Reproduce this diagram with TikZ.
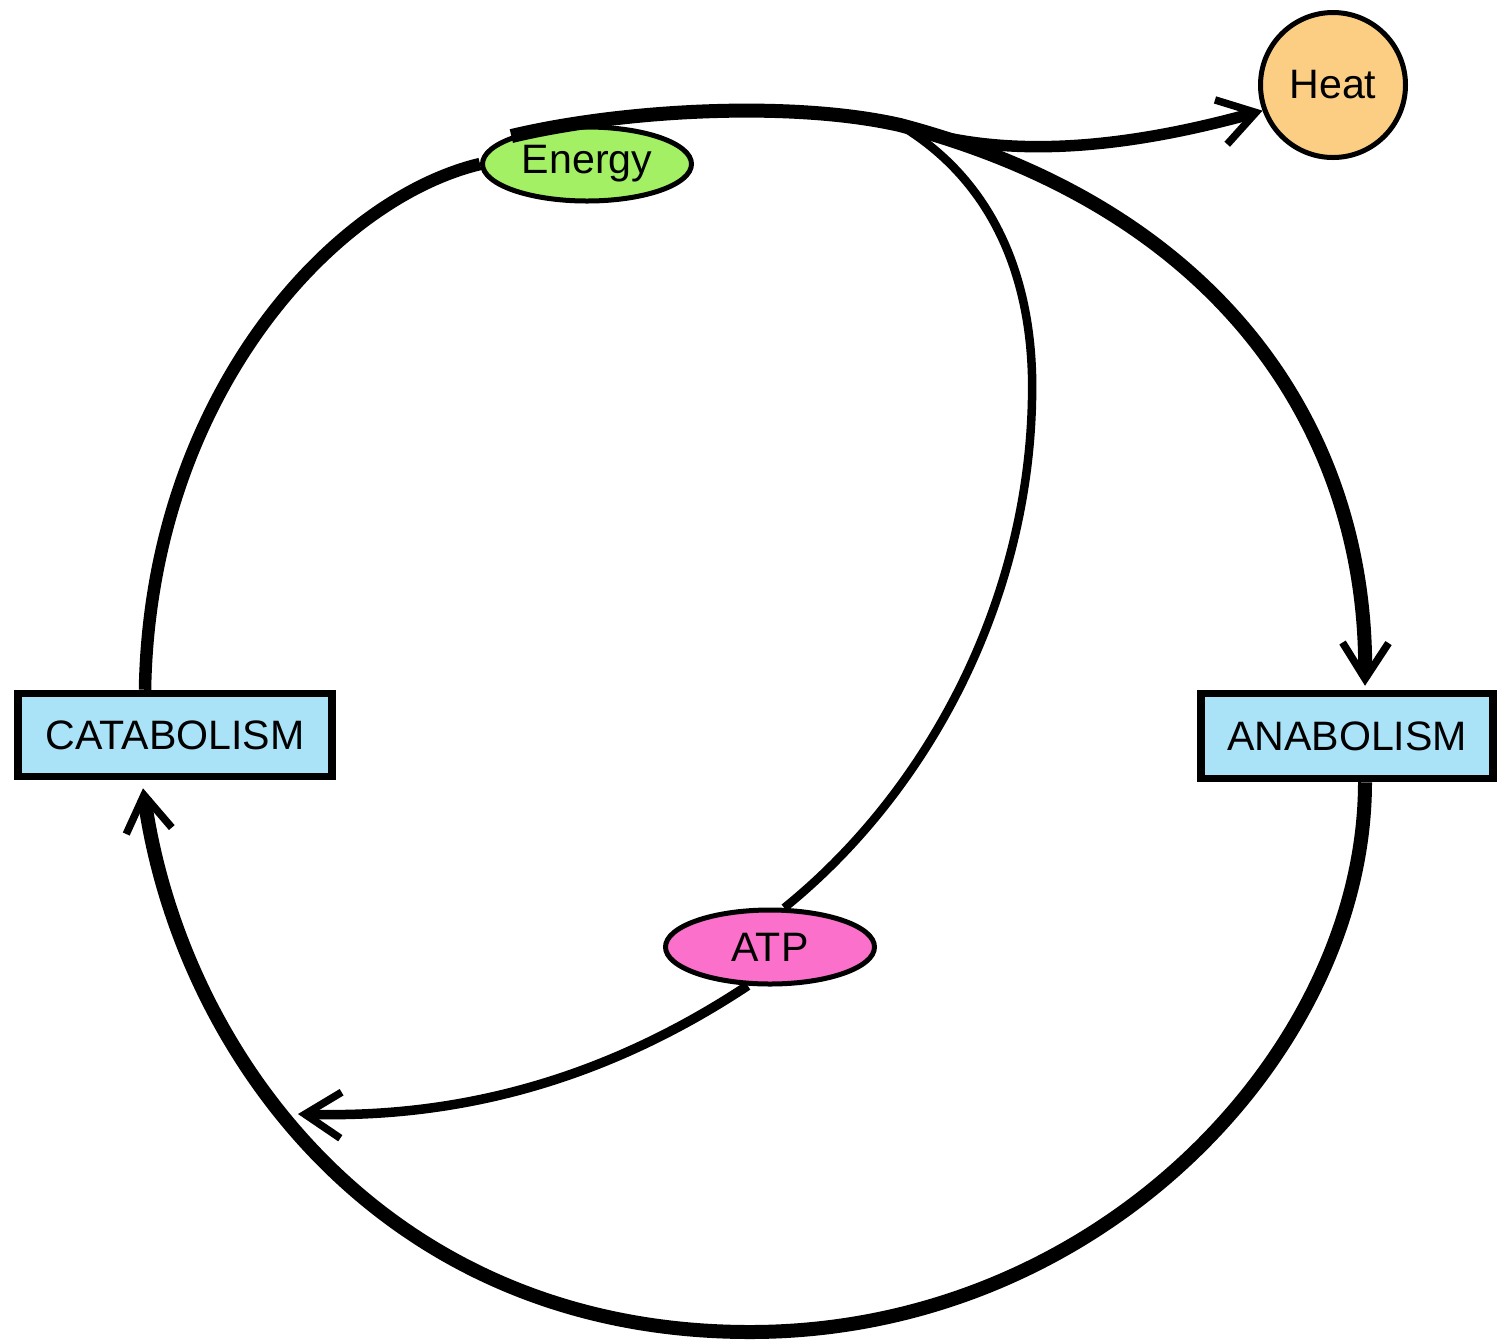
\documentclass[tikz,border=0pt]{standalone}
\usepackage{fontspec}
\setmainfont{Liberation Sans}
\usepackage{tikz}
\usetikzlibrary{shapes,arrows.meta}
\usetikzlibrary{calc}
\definecolor{energygreen}{RGB}{164,240,100}
\definecolor{heatorange}{RGB}{252,206,132}
\definecolor{atppink}{RGB}{250,112,202}
\definecolor{boxblue}{RGB}{170,226,248}

\begin{document}
\begin{tikzpicture}[x=0.1mm,y=-0.1mm,
  box/.style={draw, line width=0.75mm, rectangle, inner sep=0pt, minimum height=8.3mm, fill=boxblue},
  oval/.style={draw, line width=0.5mm, ellipse, inner sep=0pt, minimum width=20.9mm, minimum height=7.4mm},
  flow/.style={line width=1.4mm},
  tip/.style={-{Straight Barb[length=3.6mm,width=4.6mm,line width'=0.75mm]}},
  font=\fontsize{11.7}{14}\selectfont
  ]
  \useasboundingbox (0,0) rectangle (1499,1343);

  \node[box,minimum width=31.4mm] (cat) at (175,735) {CATABOLISM};
  \node[box,minimum width=29.2mm,minimum height=8.5mm] (ana) at (1347,736) {ANABOLISM};
  \node[oval,fill=energygreen] (energy) at (587,164) {Energy};
  \node[oval,fill=atppink] (atp) at (770,947) {ATP};
  \node[draw,circle,line width=0.5mm,fill=heatorange,minimum size=14.5mm,inner sep=0pt] (heat) at (1333,85) {Heat};

  \coordinate (crest) at (900,125);
  \coordinate (atpend) at (298,1114);

  \draw[flow,line width=1.25mm] ($(cat.north)+(-30,0)$) .. controls (150,400) and (330,200) .. (energy.west);
  \draw[flow,tip] (energy.north west) .. controls (620,110) and (790,100) .. (crest)
    .. controls (1230,212) and (1368,440) .. ($(ana.north)+(18,-4)$);
  \draw[flow,line width=1.15mm,tip] (crest) .. controls (1000,160) and (1120,150) .. (heat.200);
  \draw[flow,line width=0.85mm] (crest) .. controls (1000,185) and (1035,290) .. (1032,400)
    .. controls (1028,600) and (930,790) .. (atp.70);
  \draw[flow,line width=0.95mm,tip] (atp.240) .. controls (590,1090) and (440,1118) .. (atpend);
  \draw[flow,tip] ($(ana.south)+(18,0)$) .. controls (1365,1050) and (1100,1332) .. (750,1332)
    .. controls (380,1332) and (180,1050) .. ($(cat.south)+(-32,8)$);
\end{tikzpicture}
\end{document}
